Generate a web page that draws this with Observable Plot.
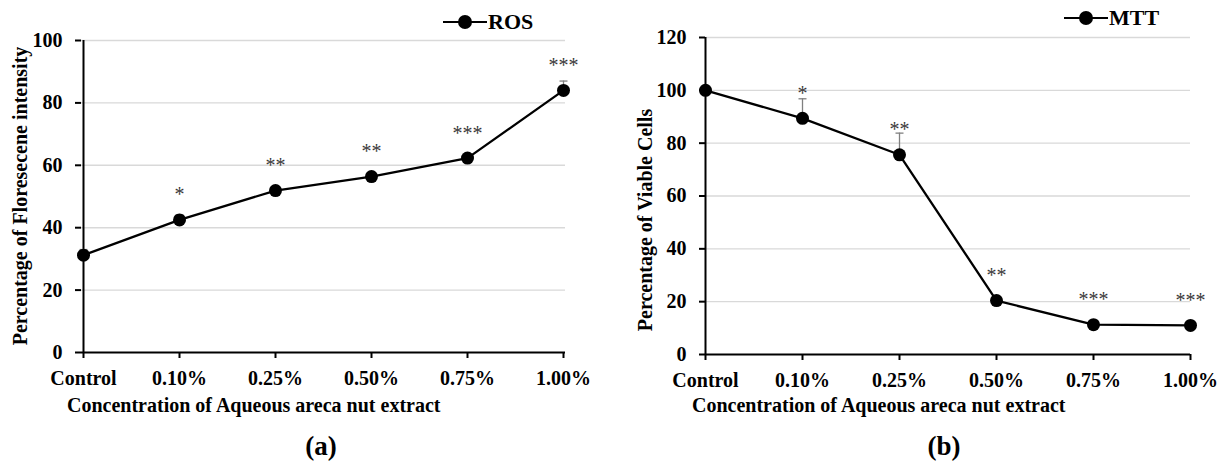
<!DOCTYPE html>
<html><head><meta charset="utf-8">
<script src="https://cdn.jsdelivr.net/npm/d3@7"></script>
<script src="https://cdn.jsdelivr.net/npm/@observablehq/plot@0.6"></script>
<style>
body{margin:0;background:#fff;}
#wrap{position:relative;width:1218px;height:462px;overflow:hidden;font-family:"Liberation Serif","Times New Roman",serif;}
.panel{position:absolute;top:0;}
.t{position:absolute;font-weight:bold;font-size:20px;white-space:nowrap;color:#000;line-height:1;}
.yt{transform:translate(-50%,-50%) rotate(-90deg);}
.cap{font-size:27px;transform:translate(-50%,-50%);}
.leg{position:absolute;height:22px;}
.leg .ln{position:absolute;top:10px;left:0;height:2.4px;background:#000;}
.leg .dt{position:absolute;top:4px;width:14px;height:14px;border-radius:50%;background:#000;}
.leg .lt{position:absolute;top:0;font-weight:bold;font-size:22px;line-height:22px;}
</style></head>
<body><div id="wrap"></div>
<script>
const categories = ["Control","0.10%","0.25%","0.50%","0.75%","1.00%"];
const rosValues = [31.2, 42.5, 51.9, 56.4, 62.3, 84.0];
const rosErrors = [1.8, 1.6, 0.8, 0.8, 0.8, 3.0];
const rosSignif = ["", "*", "**", "**", "***", "***"];
const rosTicks = [0, 20, 40, 60, 80, 100];
const mttValues = [100, 89.4, 75.6, 20.4, 11.3, 11.0];
const mttErrors = [0.5, 7.4, 8.2, 0.8, 0.8, 0.8];
const mttSignif = ["", "*", "**", "**", "***", "***"];
const mttTicks = [0, 20, 40, 60, 80, 100, 120];

const FONT = '"Liberation Serif","Times New Roman",serif';
const capSymbol = {draw(ctx, size) { const w = Math.sqrt(size / Math.PI); ctx.moveTo(-w, 0); ctx.lineTo(w, 0); }};

function panel(values, errors, signif, ticks, m) {
  const data = categories.map((c, i) => ({cat: c, v: values[i], e: errors[i], s: signif[i]}));
  const ymax = ticks[ticks.length - 1];
  return Plot.plot({
    width: 609, height: 462,
    marginLeft: m.left, marginRight: m.right, marginTop: m.top, marginBottom: m.bottom,
    style: {fontFamily: FONT, background: "transparent", overflow: "visible"},
    x: {type: "point", domain: categories, padding: 0},
    y: {domain: [0, ymax]},
    marks: [
      Plot.ruleY(ticks.filter(t => t > 0), {stroke: "#d9d9d9", strokeWidth: 1.4}),
      Plot.ruleX([categories[0]], {x: d => d, y1: 0, y2: ymax, stroke: "#000", strokeWidth: 2}),
      Plot.ruleY([0], {stroke: "#000", strokeWidth: 2}),
      Plot.axisY({ticks, tickSize: 6, tickPadding: 13, fontSize: 20, fontWeight: "bold", label: null, stroke: "#000", strokeWidth: 2}),
      Plot.axisX({tickSize: 6, tickPadding: 12, fontSize: 20, fontWeight: "bold", label: null, stroke: "#000", strokeWidth: 2}),
      Plot.ruleX(data, {x: "cat", y1: "v", y2: d => d.v + d.e, stroke: "#808080", strokeWidth: 1.3}),
      Plot.dot(data, {x: "cat", y: d => d.v + d.e, symbol: capSymbol, r: 4, stroke: "#808080", strokeWidth: 1.3, fill: "none"}),
      Plot.line(data, {x: "cat", y: "v", stroke: "#000", strokeWidth: 2.3}),
      Plot.dot(data, {x: "cat", y: "v", r: 6.5, fill: "#000", stroke: "none"}),
      Plot.text(data, {x: "cat", y: "v", text: "s", dy: -25, fontSize: 20, fill: "#3a3a3a", lineAnchor: "middle", letterSpacing: 1.5})
    ]
  });
}

const wrap = document.getElementById("wrap");
function place(node, left) {
  node.classList.add("panel");
  node.style.left = left + "px";
  wrap.appendChild(node);
}
place(panel(rosValues, rosErrors, rosSignif, rosTicks, {left: 81, right: 44, top: 40, bottom: 110}), 0);
place(panel(mttValues, mttErrors, mttSignif, mttTicks, {left: 96, right: 28, top: 37, bottom: 108}), 609);

function text(str, cls, x, y) {
  const d = document.createElement("div");
  d.className = "t " + cls;
  d.textContent = str;
  d.style.left = x + "px";
  d.style.top = y + "px";
  wrap.appendChild(d);
  return d;
}
text("Concentration of Aqueous areca nut extract", "", 67, 395);
text("Concentration of Aqueous areca nut extract", "", 692, 395);
text("Percentage of Floresecene intensity", "yt", 20, 196);
text("Percentage of Viable Cells", "yt", 645, 220);
text("(a)", "cap", 321, 446);
text("(b)", "cap", 944, 446);

function legend(label, x, y) {
  const g = document.createElement("div");
  g.className = "leg";
  g.style.left = x + "px";
  g.style.top = y + "px";
  g.innerHTML = '<div class="ln" style="width:44px"></div><div class="dt" style="left:15px"></div><div class="lt" style="left:45px"></div>';
  g.querySelector(".lt").textContent = label;
  wrap.appendChild(g);
}
legend("ROS", 443, 11);
legend("MTT", 1064, 7);
</script></body></html>
